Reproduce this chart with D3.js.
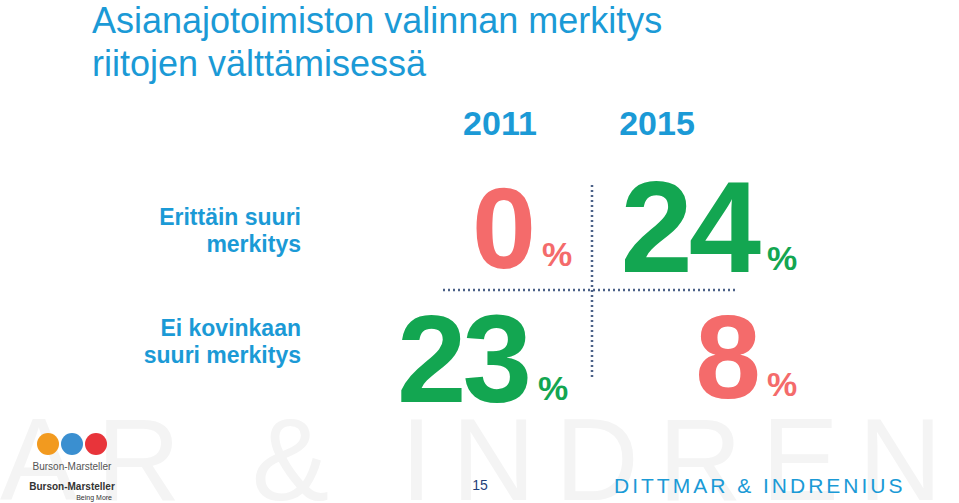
<!DOCTYPE html>
<html><head><meta charset="utf-8">
<script src="https://cdn.jsdelivr.net/npm/d3@7"></script>
<style>body{margin:0;background:#fff}svg{display:block}</style>
</head><body><svg id="c" width="959" height="503"></svg>
<script>
const titleLines = ["Asianajotoimiston valinnan merkitys", "riitojen välttämisessä"];
const years = ["2011", "2015"];
const rows = [["Erittäin suuri", "merkitys"], ["Ei kovinkaan", "suuri merkitys"]];
const values2011 = [0, 23];
const values2015 = [24, 8];
const highlight = [false, true, true, false]; // green cells

const svg = d3.select("#c");
const blue = "#1b9ad6", green = "#13a651", red = "#f46b6b", dot = "#4b6187";
const F = "Liberation Sans, Arial, sans-serif";

// watermark
svg.append("text").attr("x", 0).attr("y", 500).attr("font-family", F).attr("font-size", 116)
  .attr("fill", "#f4f4f4").attr("letter-spacing", 14).attr("textLength", 956).text("AR & INDREN");

svg.selectAll(".t").data(titleLines).join("text").attr("x", 92).attr("y", (d, i) => 33 + i * 43)
  .attr("font-family", F).attr("font-size", 36).attr("fill", blue).text(d => d);

const x = d3.scaleBand().domain(years).range([443, 735]);
const y = d3.scaleBand().domain([0, 1]).range([185, 405]);

svg.selectAll(".yr").data(years).join("text").attr("x", (d, i) => [500, 657][i]).attr("y", 135)
  .attr("text-anchor", "middle").attr("font-family", F).attr("font-weight", "bold").attr("font-size", 34)
  .attr("fill", blue).text(d => d);

rows.forEach((r, i) => r.forEach((l, j) =>
  svg.append("text").attr("x", 301).attr("y", [225, 336][i] + j * 27).attr("text-anchor", "end")
    .attr("font-family", F).attr("font-weight", "bold").attr("font-size", 23).attr("fill", blue).text(l)));

// dotted dividers
svg.append("line").attr("x1", 592).attr("x2", 592).attr("y1", y.range()[0]).attr("y2", 380)
  .attr("stroke", dot).attr("stroke-width", 2.5).attr("stroke-dasharray", "2,3");
svg.append("line").attr("x1", x.range()[0]).attr("x2", x.range()[1]).attr("y1", 290).attr("y2", 290)
  .attr("stroke", dot).attr("stroke-width", 2.5).attr("stroke-dasharray", "2,3");

const cells = [];
[values2011, values2015].forEach((vals, ci) => vals.forEach((v, ri) => cells.push({year: years[ci], row: ri, v, ci})));
const rightEdge = [532, 757];
const base = [[268, 402], [272, 398]];
const sizes = [[115, 125], [130, 118]];
cells.forEach((c, k) => {
  const col = highlight[c.ci * 2 + c.row] ? green : red;
  const bx = rightEdge[c.ci] + (c.row === 1 && c.ci === 0 ? -4 : 0);
  const by = base[c.ci][c.row];
  svg.append("text").attr("x", bx).attr("y", by).attr("text-anchor", "end").attr("font-family", F)
    .attr("font-weight", "bold").attr("font-size", sizes[c.ci][c.row]).attr("letter-spacing", -4)
    .attr("fill", col).text(c.v);
  svg.append("text").attr("x", bx + 10).attr("y", by - 2).attr("font-family", F).attr("font-weight", "bold")
    .attr("font-size", 34).attr("fill", col).text("%");
});

// footer
svg.append("text").attr("x", 480).attr("y", 490).attr("text-anchor", "middle").attr("font-family", F)
  .attr("font-size", 14).attr("fill", "#1f3f7a").text("15");
svg.append("text").attr("x", 614).attr("y", 493).attr("font-family", F).attr("font-size", 21)
  .attr("letter-spacing", 3).attr("fill", blue).text("DITTMAR & INDRENIUS");
[["#f29a1f", 48], ["#3a8fd0", 72], ["#e8343a", 96]].forEach(([c, cx]) =>
  svg.append("circle").attr("cx", cx).attr("cy", 444).attr("r", 11).attr("fill", c));
svg.append("text").attr("x", 72).attr("y", 470).attr("text-anchor", "middle").attr("font-family", F)
  .attr("font-size", 10).attr("fill", "#555").text("Burson-Marsteller");
svg.append("text").attr("x", 72).attr("y", 490).attr("text-anchor", "middle").attr("font-family", F)
  .attr("font-size", 10).attr("font-weight", "bold").attr("fill", "#333").text("Burson-Marsteller");
svg.append("text").attr("x", 112).attr("y", 500).attr("text-anchor", "end").attr("font-family", F)
  .attr("font-size", 7).attr("fill", "#333").text("Being More");
</script></body></html>
